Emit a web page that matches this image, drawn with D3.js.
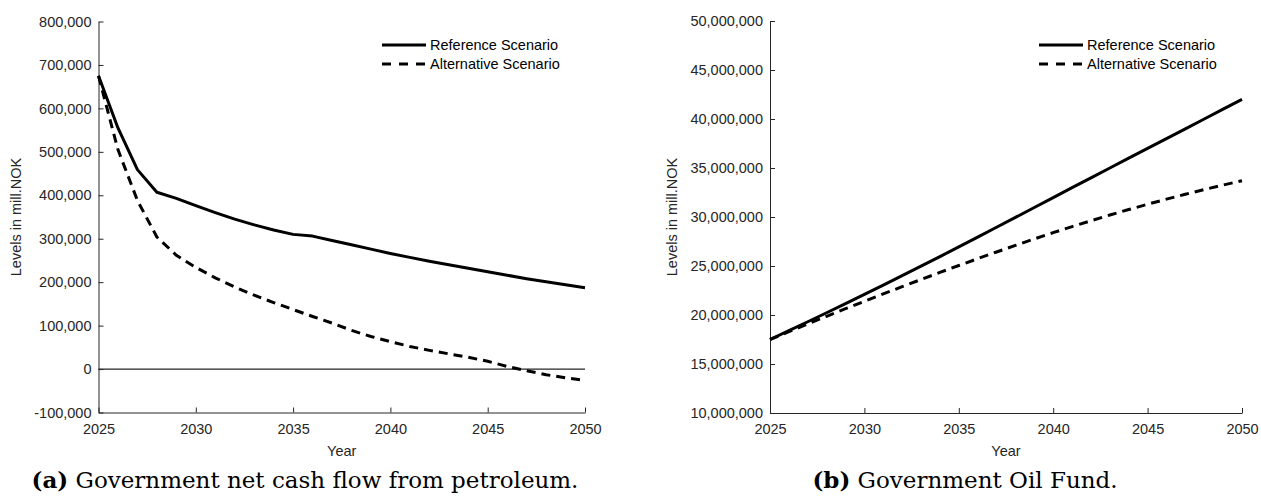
<!DOCTYPE html>
<html>
<head>
<meta charset="utf-8">
<script src="https://cdn.jsdelivr.net/npm/d3@7"></script>
<style>
  html, body { margin: 0; padding: 0; background: #ffffff; }
  svg { display: block; }
  .tick text { font-family: "Liberation Sans", Arial, sans-serif; font-size: 14.5px; fill: #262626; }
  .axis path, .axis line { stroke: #262626; stroke-width: 1; }
  .lbl { font-family: "Liberation Sans", Arial, sans-serif; font-size: 14.5px; fill: #262626; }
  .leg { font-family: "Liberation Sans", Arial, sans-serif; font-size: 14.5px; fill: #000; }
  .cap { font-family: "DejaVu Serif", "Liberation Serif", serif; font-size: 23px; fill: #000; }
</style>
</head>
<body>
<svg id="fig" width="1261" height="497"></svg>
<script>
// Years on the horizontal axis
const years = d3.range(2025, 2051);
const xTicks = [2025, 2030, 2035, 2040, 2045, 2050];

// (a) Government net cash flow from petroleum, mill. NOK
const cashRef = [675000, 555000, 459000, 407000, 393000, 376000, 360000, 345000, 332000, 320000,
                 310000, 306000, 296000, 286000, 276000, 266000, 257000, 248000, 240000, 232000,
                 224000, 216000, 208000, 201000, 194000, 187000];
const cashAlt = [675000, 505000, 388000, 304000, 262000, 234000, 210000, 189000, 170000, 153000,
                 137000, 121000, 106000, 89000, 75000, 63000, 52000, 43000, 35000, 27000,
                 18000, 6000, -4000, -13000, -20000, -26000];
const cashTicks = [-100000, 0, 100000, 200000, 300000, 400000, 500000, 600000, 700000, 800000];

// (b) Government Oil Fund, mill. NOK
const fundRef = [17500000, 18400000, 19310000, 20230000, 21160000, 22100000, 23050000, 24010000,
                 24980000, 25960000, 26950000, 27950000, 28950000, 29960000, 30970000, 31980000,
                 32990000, 34000000, 35000000, 36000000, 37000000, 38000000, 39000000, 40000000,
                 41000000, 42000000];
const fundAlt = [17500000, 18300000, 19090000, 19870000, 20640000, 21400000, 22150000, 22890000,
                 23620000, 24340000, 25050000, 25750000, 26430000, 27100000, 27760000, 28400000,
                 29020000, 29620000, 30200000, 30760000, 31300000, 31820000, 32320000, 32800000,
                 33260000, 33700000];
const fundTicks = [10000000, 15000000, 20000000, 25000000, 30000000, 35000000, 40000000, 45000000, 50000000];

const seriesNames = ["Reference Scenario", "Alternative Scenario"];
const yTitle = "Levels in mill.NOK";
const xTitle = "Year";

const fmt = d3.formatLocale({decimal: ".", thousands: ",", grouping: [3], currency: ["", ""], minus: "-"}).format(",");
const svg = d3.select("#fig");

function panel(cfg) {
  const x = d3.scaleLinear().domain([2025, 2050]).range([cfg.left, cfg.right]);
  const y = d3.scaleLinear().domain(cfg.domain).range([cfg.bottom, cfg.top]);
  const g = svg.append("g");

  g.append("g").attr("class", "axis")
    .attr("transform", `translate(0,${cfg.bottom})`)
    .call(d3.axisBottom(x).tickValues(xTicks).tickFormat(d3.format("d"))
      .tickSizeInner(-5).tickSizeOuter(0).tickPadding(11));

  g.append("g").attr("class", "axis")
    .attr("transform", `translate(${cfg.left},0)`)
    .call(d3.axisLeft(y).tickValues(cfg.ticks).tickFormat(fmt)
      .tickSizeInner(-5).tickSizeOuter(0).tickPadding(7));

  if (cfg.zeroLine) {
    g.append("line")
      .attr("x1", x(2025)).attr("x2", x(2050))
      .attr("y1", y(0)).attr("y2", y(0))
      .attr("stroke", "#262626").attr("stroke-width", 1.2);
  }

  const line = d3.line().x((d, i) => x(years[i])).y(d => y(d));
  g.append("path").datum(cfg.alt).attr("d", line)
    .attr("fill", "none").attr("stroke", "#000").attr("stroke-width", 3)
    .attr("stroke-dasharray", "9,6");
  g.append("path").datum(cfg.ref).attr("d", line)
    .attr("fill", "none").attr("stroke", "#000").attr("stroke-width", 3)
    .attr("stroke-linejoin", "round");

  // axis titles
  g.append("text").attr("class", "lbl")
    .attr("x", (cfg.left + cfg.right) / 2).attr("y", 456)
    .attr("text-anchor", "middle").text(xTitle);
  g.append("text").attr("class", "lbl")
    .attr("transform", `translate(${cfg.ylabX},${(cfg.top + cfg.bottom) / 2}) rotate(-90)`)
    .attr("text-anchor", "middle").text(yTitle);

  // legend
  const lg = g.append("g").attr("transform", `translate(${cfg.legX},45)`);
  seriesNames.forEach((name, i) => {
    const row = lg.append("g").attr("transform", `translate(0,${i * 19})`);
    row.append("line").attr("x1", 0).attr("x2", 44).attr("y1", 0).attr("y2", 0)
      .attr("stroke", "#000").attr("stroke-width", 3)
      .attr("stroke-dasharray", i === 1 ? "9,8" : null);
    row.append("text").attr("class", "leg").attr("x", 48).attr("y", 0)
      .attr("dy", "0.35em").text(name);
  });

  // caption
  const cap = g.append("text").attr("class", "cap")
    .attr("x", cfg.capX).attr("y", 488).attr("text-anchor", "middle");
  cap.append("tspan").attr("font-weight", "bold").text(cfg.capTag);
  cap.append("tspan").text(" " + cfg.capText);
}

panel({
  left: 98.5, right: 585, top: 21.5, bottom: 412.5,
  domain: [-100000, 800000], ticks: cashTicks,
  ref: cashRef, alt: cashAlt, zeroLine: true,
  ylabX: 21, legX: 382,
  capX: 305, capTag: "(a)", capText: "Government net cash flow from petroleum."
});

panel({
  left: 770, right: 1242, top: 21, bottom: 413,
  domain: [10000000, 50000000], ticks: fundTicks,
  ref: fundRef, alt: fundAlt, zeroLine: false,
  ylabX: 677, legX: 1039,
  capX: 965, capTag: "(b)", capText: "Government Oil Fund."
});
</script>
</body>
</html>
